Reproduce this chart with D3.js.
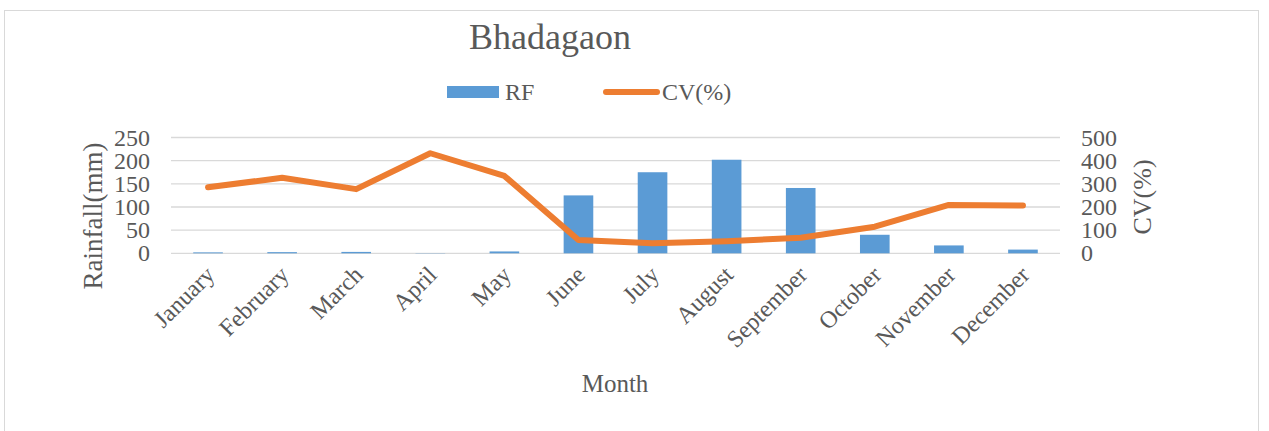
<!DOCTYPE html>
<html>
<head>
<meta charset="utf-8">
<script src="https://cdn.jsdelivr.net/npm/d3@7"></script>
<style>
  body { margin: 0; background: #fff; }
  text { font-family: "Liberation Serif", "Times New Roman", serif; fill: #595959; }
</style>
</head>
<body>
<script>
    const months = ['January', 'February', 'March', 'April', 'May', 'June',
        'July', 'August', 'September', 'October', 'November', 'December'];
    const rainfall = [2, 2.5, 3, 0.5, 4, 125, 175, 202, 141, 40, 17, 8];
    const cv = [285, 326, 277, 432, 334, 57, 43, 52, 67, 115, 209, 206];
    const rfTicks = [0, 50, 100, 150, 200, 250];
    const cvTicks = [0, 100, 200, 300, 400, 500];

    const size = { width: 1269, height: 431 };
    const plot = { left: 171, right: 1060, top: 137.5, bottom: 253.3 };

    const svg = d3.select('body')
        .append('svg')
        .attr('width', size.width)
        .attr('height', size.height);

    // chart frame
    svg.append('rect')
        .attr('x', 4.5).attr('y', 10.5)
        .attr('width', 1254).attr('height', 440)
        .attr('fill', 'none')
        .attr('stroke', '#d9d9d9');

    let x = d3.scaleBand()
        .domain(months)
        .range([plot.left, plot.right])
        .paddingInner(0.6)
        .paddingOuter(0.3);

    let yRf = d3.scaleLinear().domain([0, 250]).range([plot.bottom, plot.top]);
    let yCv = d3.scaleLinear().domain([0, 500]).range([plot.bottom, plot.top]);

    // gridlines
    svg.append('g')
        .selectAll('line')
        .data(rfTicks)
        .enter()
        .append('line')
        .attr('x1', plot.left).attr('x2', plot.right)
        .attr('y1', d => yRf(d)).attr('y2', d => yRf(d))
        .attr('stroke', '#d9d9d9')
        .attr('stroke-width', 1.3);

    // left axis
    let leftAxis = svg.append('g')
        .attr('transform', 'translate(' + plot.left + ',0)')
        .call(d3.axisLeft(yRf).tickValues(rfTicks).tickSize(0).tickPadding(21));
    leftAxis.select('.domain').remove();
    leftAxis.selectAll('text')
        .style('font-size', '24px')
        .style('font-family', '"Liberation Serif", serif')
        .attr('fill', '#595959');

    // right axis
    let rightAxis = svg.append('g')
        .attr('transform', 'translate(' + plot.right + ',0)')
        .call(d3.axisRight(yCv).tickValues(cvTicks).tickSize(0).tickPadding(21));
    rightAxis.select('.domain').remove();
    rightAxis.selectAll('text')
        .style('font-size', '24px')
        .style('font-family', '"Liberation Serif", serif')
        .attr('fill', '#595959');

    // bottom axis labels
    let bottomAxis = svg.append('g')
        .attr('transform', 'translate(0,' + plot.bottom + ')')
        .call(d3.axisBottom(x).tickSize(0).tickPadding(0));
    bottomAxis.select('.domain').remove();
    bottomAxis.selectAll('text')
        .style('font-size', '24px')
        .style('font-family', '"Liberation Serif", serif')
        .attr('fill', '#595959')
        .attr('text-anchor', 'end')
        .attr('dy', 0)
        .attr('transform', 'translate(8,23) rotate(-45)');

    // bars
    svg.append('g')
        .selectAll('rect')
        .data(rainfall)
        .enter()
        .append('rect')
        .attr('x', (d, i) => x(months[i]))
        .attr('width', x.bandwidth())
        .attr('y', d => yRf(d))
        .attr('height', d => plot.bottom - yRf(d))
        .attr('fill', '#5b9bd5');

    // CV line
    let line = d3.line()
        .x((d, i) => x(months[i]) + x.bandwidth() / 2)
        .y(d => yCv(d));

    svg.append('path')
        .datum(cv)
        .attr('d', line)
        .attr('fill', 'none')
        .attr('stroke', '#ed7d31')
        .attr('stroke-width', 6)
        .attr('stroke-linejoin', 'round')
        .attr('stroke-linecap', 'round');

    // title
    svg.append('text')
        .attr('x', 550).attr('y', 49)
        .attr('text-anchor', 'middle')
        .style('font-size', '36px')
        .text('Bhadagaon');

    // legend
    let legend = svg.append('g');
    legend.append('rect')
        .attr('x', 447).attr('y', 86)
        .attr('width', 52).attr('height', 12)
        .attr('fill', '#5b9bd5');
    legend.append('text')
        .attr('x', 505).attr('y', 100)
        .style('font-size', '24px')
        .text('RF');
    legend.append('line')
        .attr('x1', 606).attr('x2', 657)
        .attr('y1', 92).attr('y2', 92)
        .attr('stroke', '#ed7d31')
        .attr('stroke-width', 6)
        .attr('stroke-linecap', 'round');
    legend.append('text')
        .attr('x', 662).attr('y', 100)
        .style('font-size', '24px')
        .text('CV(%)');

    // axis titles
    svg.append('text')
        .attr('transform', 'translate(102,216) rotate(-90)')
        .attr('text-anchor', 'middle')
        .style('font-size', '27px')
        .text('Rainfall(mm)');

    svg.append('text')
        .attr('transform', 'translate(1151,197) rotate(-90)')
        .attr('text-anchor', 'middle')
        .style('font-size', '26px')
        .text('CV(%)');

    svg.append('text')
        .attr('x', 615).attr('y', 392)
        .attr('text-anchor', 'middle')
        .style('font-size', '25px')
        .text('Month');
</script>
</body>
</html>
